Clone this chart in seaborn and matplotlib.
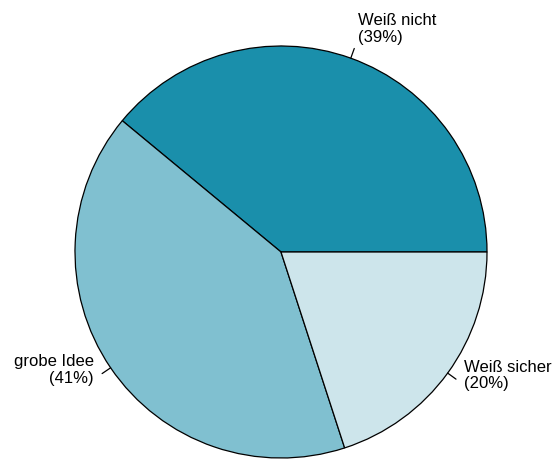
import numpy as np
import matplotlib
matplotlib.use("Agg")
import matplotlib.pyplot as plt
import matplotlib.transforms as mtransforms
import seaborn as sns

categories = ["Weiß nicht", "grobe Idee", "Weiß sicher"]
values = [39, 41, 20]
colors = ["#1a8fab", "#80c0d0", "#cde5eb"]

sns.set_style("white")
plt.rcParams['font.family'] = ['Liberation Sans', 'DejaVu Sans']

fig = plt.figure(figsize=(5.53, 4.59), dpi=100)
ax = fig.add_axes([0, 0, 1, 1])
wedges, _ = ax.pie(values, colors=colors, startangle=0, counterclock=True,
                   radius=1.0, center=(0, 0),
                   wedgeprops=dict(edgecolor="black", linewidth=0.9))
ax.set_aspect('auto')
ax.set_xlim(-281/206, (553-281)/206)
ax.set_ylim(-207/206, 252/206)
ax.axis('off')

shift = mtransforms.offset_copy(ax.transData, fig=fig, x=0, y=7, units='points')
total = sum(values)
for w, cat, v in zip(wedges, categories, values):
    mid = np.deg2rad((w.theta1 + w.theta2) / 2)
    c, s = np.cos(mid), np.sin(mid)
    ax.plot([c, 1.05*c], [s, 1.05*s], color="black", lw=0.9)
    ax.text(1.1*c, 1.1*s, f"{cat}\n({round(100*v/total)}%)",
            transform=shift, color="black",
            ha='left' if c > 0 else 'right', va='center', fontsize=12,
            linespacing=1.15,
            multialignment='left' if c > 0 else 'right')

fig.savefig("out.png", dpi=100)
